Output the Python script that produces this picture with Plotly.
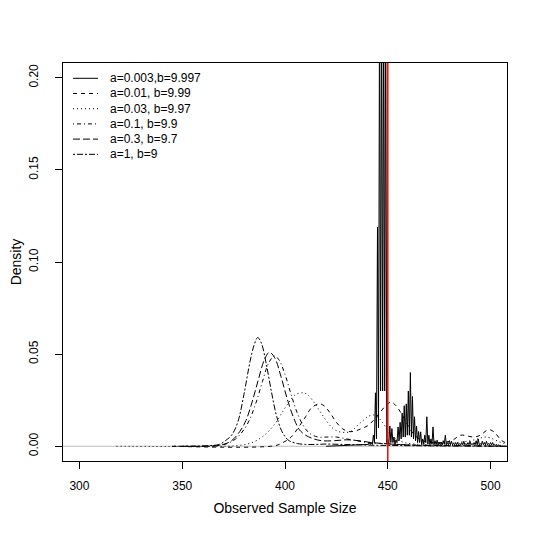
import plotly.graph_objects as go

# legend labels in R line-type order
labels = ["a=0.003,b=9.997", "a=0.01, b=9.99", "a=0.03, b=9.97",
          "a=0.1, b=9.9", "a=0.3, b=9.7", "a=1, b=9"]

# solid curve (a=0.003): spiky density, peaks at integers, valleys between
solid_peak_x = list(range(440, 506))
solid_peak_y = [0.001, 0.002, 0.002, 0.006, 0.029, 0.119, 0.25, 0.25, 0.25, 0.25,
                0.004, 0.011, 0.0096, 0.005, 0.0035, 0.0105, 0.013, 0.018, 0.022, 0.023,
                0.030, 0.040, 0.027, 0.016, 0.011, 0.008, 0.0078, 0.004, 0.006, 0.016,
                0.006, 0.004, 0.0105, 0.003, 0.0033, 0.002, 0.002, 0.003, 0.006, 0.002,
                0.003, 0.0027, 0.0015, 0.002, 0.002, 0.0015, 0.002, 0.0027, 0.0015, 0.002,
                0.0027, 0.0015, 0.002, 0.003, 0.004, 0.0015, 0.0027, 0.002, 0.0027, 0.0015,
                0.002, 0.002, 0.001, 0.001, 0.0008, 0.0005]
solid_valley_y = [0.001, 0.001, 0.001, 0.002, 0.004, 0.01, 0.03, 0.03, 0.03, 0.002,
                  0.001, 0.002, 0.002, 0.001, 0.002, 0.003, 0.004, 0.005, 0.005, 0.006,
                  0.006, 0.005, 0.004, 0.003, 0.002, 0.002, 0.001, 0.001, 0.002, 0.001,
                  0.001, 0.001, 0.001, 0.0008, 0.0008, 0.0008, 0.0008, 0.001, 0.0008, 0.0008,
                  0.0008, 0.0008, 0.0008, 0.0008, 0.0008, 0.0008, 0.0008, 0.0008, 0.0008, 0.0008,
                  0.0008, 0.0008, 0.0008, 0.0008, 0.0008, 0.0008, 0.0008, 0.0008, 0.0008, 0.0008,
                  0.0008, 0.0006, 0.0005, 0.0004, 0.0003]
solid_lead_x = [420, 430, 438]
solid_lead_y = [0.0, 0.0005, 0.001]

# dashed (a=0.01)
dash_x = [345, 395, 399, 403, 407, 410, 413, 416.7, 419, 422, 425, 428, 431, 434, 437,
          440, 443, 446, 449, 451.6, 454, 457, 460, 463, 467, 471, 476, 481, 485.5, 489,
          492, 495, 498, 499.5, 502, 505, 508]
dash_y = [0, 0.0003, 0.002, 0.005, 0.011, 0.016, 0.021, 0.023, 0.022, 0.018, 0.013,
          0.0095, 0.008, 0.0082, 0.0095, 0.011, 0.014, 0.018, 0.022, 0.024, 0.022, 0.017,
          0.011, 0.006, 0.003, 0.002, 0.002, 0.003, 0.006, 0.0055, 0.005, 0.006, 0.0085,
          0.009, 0.0075, 0.0035, 0.0015]

# dotted (a=0.03)
dot_x = [318, 370, 378, 384, 390, 395, 399, 402, 405, 408.6, 411, 414, 417, 420, 423,
         426, 429, 432, 435, 438, 441, 443, 445, 448, 451, 454, 458, 463, 470, 477, 484,
         490, 494, 497, 500, 504, 508]
dot_y = [0, 0, 0.0005, 0.002, 0.006, 0.012, 0.019, 0.024, 0.028, 0.029, 0.028, 0.024,
         0.019, 0.014, 0.010, 0.008, 0.0075, 0.008, 0.011, 0.014, 0.0165, 0.017, 0.016,
         0.012, 0.007, 0.004, 0.002, 0.0012, 0.001, 0.0012, 0.002, 0.003, 0.004, 0.005,
         0.0045, 0.0025, 0.001]

# dot-dash (a=0.1)
dotdash_x = [352, 366, 372, 376, 380, 383, 386, 389, 392, 394.8, 397, 400, 403, 406,
             409, 412, 416, 420, 425, 430, 435, 440, 446, 455, 465, 480, 495, 508]
dotdash_y = [0, 0.0002, 0.0015, 0.004, 0.009, 0.015, 0.024, 0.035, 0.045, 0.049, 0.047,
             0.039, 0.028, 0.018, 0.011, 0.007, 0.005, 0.005, 0.005, 0.004, 0.003, 0.002,
             0.0015, 0.001, 0.0006, 0.0004, 0.0002, 0]

# long dash (a=0.3)
longdash_x = [350, 365, 370, 374, 378, 381, 384, 387, 390, 392.4, 395, 398, 401, 404,
              407, 410, 414, 418, 424, 430, 436, 442, 448, 455, 465, 480, 495, 508]
longdash_y = [0, 0.0002, 0.001, 0.003, 0.008, 0.014, 0.024, 0.036, 0.047, 0.051, 0.048,
              0.038, 0.026, 0.016, 0.009, 0.006, 0.004, 0.003, 0.003, 0.0035, 0.003, 0.002,
              0.0015, 0.001, 0.0005, 0.0003, 0.0002, 0]

# two-dash (a=1)
twodash_x = [346, 362, 368, 371, 374, 377, 380, 383, 385, 386.7, 388.5, 391, 393.5, 396,
             399, 402, 406, 410, 415, 420, 428, 436, 445, 455, 470, 490, 508]
twodash_y = [0, 0.0003, 0.001, 0.003, 0.006, 0.013, 0.028, 0.046, 0.055, 0.059, 0.056,
             0.044, 0.029, 0.016, 0.007, 0.003, 0.0015, 0.001, 0.001, 0.0012, 0.001,
             0.0008, 0.0005, 0.0004, 0.0002, 0.0001, 0]

true_n = 450

# R lty patterns 1..6
dashes = ["solid", "4px,4px", "1px,3px", "1px,3px,4px,3px", "7px,3px", "2px,2px,6px,2px"]

solid_x = list(solid_lead_x)
solid_y = list(solid_lead_y)
for i, xv in enumerate(solid_peak_x):
    solid_x.append(xv)
    solid_y.append(solid_peak_y[i])
    if i < len(solid_valley_y):
        solid_x.append(xv + 0.5)
        solid_y.append(solid_valley_y[i])

curves = [(solid_x, solid_y), (dash_x, dash_y), (dot_x, dot_y),
          (dotdash_x, dotdash_y), (longdash_x, longdash_y), (twodash_x, twodash_y)]

fig = go.Figure()
for i, (xs, ys) in enumerate(curves):
    fig.add_scatter(x=xs, y=ys, mode="lines", name=labels[i],
                    line=dict(color="black", width=1, dash=dashes[i],
                              shape="linear" if i == 0 else "spline"),
                    showlegend=False)

fig.add_hline(y=0, line=dict(color="#bebebe", width=1), layer="below")
fig.add_vline(x=true_n, line=dict(color="red", width=1.5))

# page has an 8px body margin, so the figure is a bit smaller than the window
W, H, L, T = 444, 398, 55, 55
FW, FH = 532, 532

# legend drawn by hand (R style, no box); offsets in px from plot corner
for i, lab in enumerate(labels):
    dy = 15.3 + 15.2 * i
    yp = (H - dy) / H
    fig.add_shape(type="line", xref="paper", yref="paper",
                  x0=10 / W, x1=35 / W, y0=yp, y1=yp,
                  line=dict(color="black", width=1, dash=dashes[i]))
    fig.add_annotation(xref="paper", yref="paper", x=45 / W, y=yp,
                       text=lab, showarrow=False, xanchor="left", yanchor="middle",
                       font=dict(size=12, color="black"))

fig.update_layout(
    width=FW, height=FH,
    margin=dict(l=L, r=FW - L - W, t=T, b=FH - T - H),
    plot_bgcolor="white", paper_bgcolor="white",
    font=dict(family="Liberation Sans, Arial, sans-serif", size=12, color="black"),
    showlegend=False,
)
fig.update_xaxes(range=[292, 508], tickvals=[300, 350, 400, 450, 500],
                 showline=True, mirror=True, linecolor="black", linewidth=1,
                 ticks="outside", ticklen=7, tickcolor="black", showgrid=False,
                 zeroline=False, ticklabelstandoff=7, automargin=False,
                 title=dict(text="Observed Sample Size", standoff=10))
fig.update_yaxes(range=[-0.008, 0.208], tickvals=[0, 0.05, 0.10, 0.15, 0.20],
                 tickformat=".2f", tickangle=-90,
                 showline=True, mirror=True, linecolor="black", linewidth=1,
                 ticks="outside", ticklen=7, tickcolor="black", showgrid=False,
                 zeroline=False, ticklabelstandoff=12, automargin=False,
                 title=dict(text="Density", standoff=9))

fig.write_html("out.html")
